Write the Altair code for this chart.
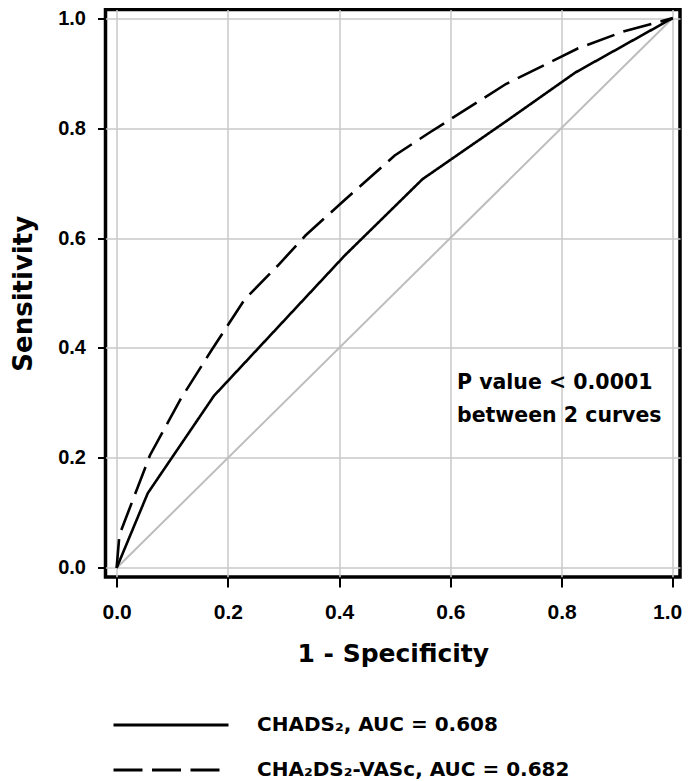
import altair as alt
import pandas as pd

# ---- data ----
chads_fpr = [0.0, 0.056, 0.175, 0.41, 0.55, 0.70, 0.825, 1.0]
chads_tpr = [0.0, 0.136, 0.313, 0.568, 0.707, 0.812, 0.901, 1.0]

vasc_fpr = [0.0, 0.005, 0.06, 0.115, 0.17, 0.23, 0.29, 0.34, 0.40, 0.50, 0.56, 0.70, 0.83, 0.91, 1.0]
vasc_tpr = [0.0, 0.06, 0.205, 0.307, 0.395, 0.488, 0.55, 0.605, 0.66, 0.75, 0.79, 0.88, 0.945, 0.975, 1.0]

series_names = ["CHADS\u2082, AUC = 0.608", "CHA\u2082DS\u2082-VASc, AUC = 0.682"]

diag_x = [0.0, 1.0]
diag_y = [0.0, 1.0]

tick_values = [0.0, 0.2, 0.4, 0.6, 0.8, 1.0]

note_lines = ["P value < 0.0001", "between 2 curves"]
note_x = 0.612
note_y = 0.3255

# ---- tables ----
rows = []
for i, (fx, ty) in enumerate(zip(chads_fpr, chads_tpr)):
    rows.append({"fpr": fx, "tpr": ty, "series": series_names[0], "order": i})
for i, (fx, ty) in enumerate(zip(vasc_fpr, vasc_tpr)):
    rows.append({"fpr": fx, "tpr": ty, "series": series_names[1], "order": i})
curves = pd.DataFrame(rows)
diag = pd.DataFrame({"fpr": diag_x, "tpr": diag_y})
note = pd.DataFrame({"x": [note_x], "y": [note_y], "t": [note_lines]})

FONT = "DejaVu Sans"
TICKFONT = "Liberation Sans"

xscale = alt.Scale(domain=[-0.02, 1.013], nice=False, zero=False)
yscale = alt.Scale(domain=[-0.0164, 1.0155], nice=False, zero=False)

xaxis = alt.Axis(
    title="1 - Specificity", values=tick_values, format=".1f",
    grid=True, gridColor="#c8c8c8", gridWidth=1.5,
    domain=False, ticks=True, tickSize=10, tickWidth=2, tickColor="black",
    labelFont=TICKFONT, labelFontSize=21, labelFontWeight="bold", labelColor="black",
    labelPadding=14, labelFlush=9, labelFlushOffset=9,
    titleFont=FONT, titleFontSize=25, titleFontWeight="bold", titleColor="black",
    titlePadding=19,
)
yaxis = alt.Axis(
    title="Sensitivity", values=tick_values, format=".1f",
    grid=True, gridColor="#c8c8c8", gridWidth=1.5,
    domain=False, ticks=True, tickSize=8, tickWidth=2, tickColor="black",
    labelFont=TICKFONT, labelFontSize=20, labelFontWeight="bold", labelColor="black",
    labelPadding=12, labelFlush=False,
    titleFont=FONT, titleFontSize=26, titleFontWeight="bold", titleColor="black",
    titlePadding=21,
)

diag_layer = alt.Chart(diag).mark_line(color="#bdbdbd", strokeWidth=2).encode(
    x=alt.X("fpr:Q", scale=xscale, axis=xaxis),
    y=alt.Y("tpr:Q", scale=yscale, axis=yaxis),
)

curve_layer = alt.Chart(curves).mark_line(color="black", strokeWidth=2.6).encode(
    x=alt.X("fpr:Q", scale=xscale),
    y=alt.Y("tpr:Q", scale=yscale),
    order="order:Q",
    strokeDash=alt.StrokeDash(
        "series:N",
        scale=alt.Scale(domain=series_names, range=[[1, 0], [29, 9.5]]),
        legend=alt.Legend(
            title=None, orient="none", legendX=52.5, legendY=702.5,
            symbolType="M-5,0H5", symbolSize=529, symbolStrokeWidth=3,
            symbolStrokeColor="black",
            labelFont=FONT, labelFontSize=20, labelFontWeight="bold", labelColor="black",
            labelOffset=73, rowPadding=22, padding=0, labelLimit=500,
        ),
    ),
)

note_layer = alt.Chart(note).mark_text(
    font=FONT, fontSize=20.5, fontWeight="bold", color="black",
    align="left", baseline="alphabetic", lineHeight=33,
).encode(
    x=alt.X("x:Q", scale=xscale),
    y=alt.Y("y:Q", scale=yscale),
    text="t",
)

chart = alt.layer(diag_layer, curve_layer, note_layer).properties(
    width=574.5, height=567.5,
    background="white",
    autosize=alt.AutoSizeParams(type="none"),
    padding={"left": 97.5, "top": 1.5, "right": 2, "bottom": 204},
).configure_view(
    stroke="black", strokeWidth=3.5, fill="white",
)

chart.save("out.html", embed_options={"renderer": "svg", "actions": False})
